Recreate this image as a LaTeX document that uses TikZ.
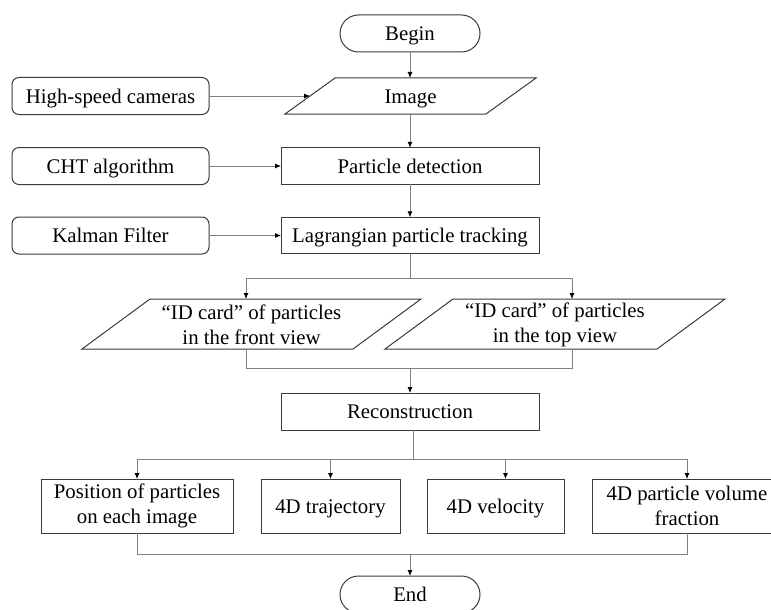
\documentclass[tikz,border=0pt]{standalone}
\usepackage{fontspec}
\setmainfont{Liberation Serif}
\usetikzlibrary{arrows.meta}
\definecolor{bordc}{HTML}{3A3A3A}
\definecolor{linec}{HTML}{808080}
\begin{document}
\begin{tikzpicture}[x=1pt,y=-1pt,
  every node/.style={font=\fontsize{20.8}{25}\selectfont, text=black, inner sep=0pt, outer sep=0pt, align=center},
  oneline/.style={text height=19pt, text depth=5pt},
  term/.style={oneline, draw=bordc, line width=1pt, rounded corners=18.5pt, minimum width=140pt, minimum height=37pt},
  inbox/.style={oneline, draw=bordc, line width=1pt, rounded corners=7pt, minimum width=197pt, minimum height=37pt},
  proc/.style={oneline, draw=bordc, line width=1pt, minimum width=258pt, minimum height=36.5pt},
  outbox/.style={draw=bordc, line width=1pt, minimum height=54pt},
  para/.style={draw=bordc, line width=1pt},
  conn/.style={draw=linec, line width=0.8pt},
  arr/.style={conn, -{Latex[length=6pt,width=5pt,color=black]}}
]
\useasboundingbox (0,0) rectangle (771,610);

% main column
\node[term] (begin) at (410,33.5) {Begin};

% Image parallelogram
\coordinate (imgBL) at (285,114);
\coordinate (imgTL) at (335,78);
\coordinate (imgTR) at (536,78);
\coordinate (imgBR) at (486,114);
\draw[para] (imgBL) -- (imgTL) -- (imgTR) -- (imgBR) -- cycle;
\node[oneline] (img) at (410.5,96) {Image};
\coordinate (imgLeft) at (310,96);
\coordinate (imgTop) at (410,78);
\coordinate (imgBot) at (410,114);

\node[proc] (det) at (410,166) {Particle detection};
\node[proc] (lag) at (410,235.5) {Lagrangian particle tracking};

% inputs
\node[inbox] (hsc) at (110.5,96) {High-speed cameras};
\node[inbox] (cht) at (110.5,166) {CHT algorithm};
\node[inbox] (kal) at (110.5,235.5) {Kalman Filter};

% ID card parallelograms
\draw[para] (82,349) -- (150,299) -- (421,299) -- (353,349) -- cycle;
\node (idf) at (251.5,324.5) {``ID card'' of particles\\in the front view};
\coordinate (idfTop) at (246,299);
\coordinate (idfBot) at (246,349);

\draw[para] (385,349) -- (453,299) -- (725,299) -- (657,349) -- cycle;
\node (idt) at (555,324.5) {``ID card'' of particles\\in the top view};
\coordinate (idtTop) at (572,299);
\coordinate (idtBot) at (572,349);

\node[proc, minimum height=37pt] (rec) at (410,411.5) {Reconstruction};

% outputs
\node[outbox, minimum width=192pt] (pos) at (137,506) {Position of particles\\on each image};
\node[outbox, oneline, minimum width=139pt] (traj) at (330.5,506) {4D trajectory};
\node[outbox, oneline, minimum width=137pt] (vel) at (495.5,506) {4D velocity};
\node[outbox, minimum width=190pt] (frac) at (687,506) {4D particle volume\\fraction};

\node[term] (end) at (410,594.5) {End};

% junction coordinates
\coordinate (split1) at (410,278);
\coordinate (merge1) at (410,368);
\coordinate (split2) at (413,459);
\coordinate (merge2) at (410,554);

% connectors
\draw[arr] (begin) -- (imgTop);
\draw[arr] (imgBot) -- (det);
\draw[arr] (det) -- (lag);
\draw[arr] (hsc) -- (imgLeft);
\draw[arr] (cht) -- (det);
\draw[arr] (kal) -- (lag);

\draw[conn] (lag) -- (split1);
\draw[arr] (split1) -| (idfTop);
\draw[arr] (split1) -| (idtTop);

\draw[conn] (idfBot) |- (merge1);
\draw[conn] (idtBot) |- (merge1);
\draw[arr] (merge1) -- (rec);

\draw[conn] (rec.south -| split2) -- (split2);
\draw[arr] (split2) -| (pos.north);
\draw[arr] (split2) -| (traj.north);
\draw[arr] (split2) -| ([xshift=10pt]vel.north);
\draw[arr] (split2) -| (frac.north);

\draw[conn] (pos.south) |- (merge2);
\draw[conn] (frac.south) |- (merge2);
\draw[arr] (merge2) -- (end);
\end{tikzpicture}
\end{document}
